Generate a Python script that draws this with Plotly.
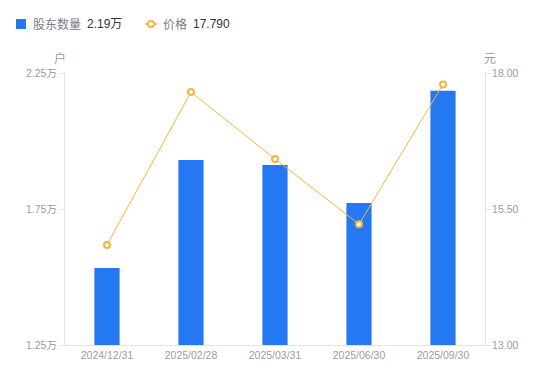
import plotly.graph_objects as go

dates = ["2024/12/31", "2025/02/28", "2025/03/31", "2025/06/30", "2025/09/30"]
holders = [1.533, 1.930, 1.912, 1.772, 2.185]  # 万户
price = [14.84, 17.65, 16.42, 15.22, 17.79]
left_ticks = [1.25, 1.75, 2.25]
left_labels = ["1.25万", "1.75万", "2.25万"]
right_ticks = [13.0, 15.5, 18.0]
right_labels = ["13.00", "15.50", "18.00"]
legend_names = ["股东数量", "价格"]
legend_values = ["2.19万", "17.790"]

W, H = 550, 381
L, R, T, B = 65, 65, 73, 36
PW, PH = W - L - R, H - T - B


def px(x):
    return (x - L) / PW


def py(y):
    return (H - B - y) / PH


grey = "#9a9ca8"
axis_line = "#e3e4e8"
blue = "#2478f2"
orange = "#f7b43c"
font_fam = "Liberation Sans, Arial, Noto Sans CJK SC, sans-serif"
tick_size = 10.5

fig = go.Figure()
fig.add_trace(go.Bar(
    x=dates, y=holders, name=legend_names[0],
    marker=dict(color=blue, line=dict(width=0)), width=0.3,
))
fig.add_trace(go.Scatter(
    x=dates, y=price, yaxis="y2", mode="lines+markers", name=legend_names[1],
    line=dict(color=orange, width=1),
    marker=dict(symbol="circle", size=6, color="white", line=dict(color=orange, width=2)),
))

shapes = [
    dict(type="rect", xref="paper", yref="paper", x0=px(16), x1=px(26), y0=py(29), y1=py(19),
         fillcolor=blue, line=dict(width=0)),
    dict(type="line", xref="paper", yref="paper", x0=px(145), x1=px(157), y0=py(24), y1=py(24),
         line=dict(color=orange, width=1.5)),
    dict(type="circle", xref="paper", yref="paper", x0=px(148), x1=px(154), y0=py(27), y1=py(21),
         fillcolor="white", line=dict(color=orange, width=2)),
]

ann = [
    dict(text=legend_names[0], x=px(31), y=py(24), xanchor="left", yanchor="middle",
         font=dict(size=12, color="#7a7d88", family="Noto Sans CJK SC")),
    dict(text=legend_values[0], x=px(85), y=py(24), xanchor="left", yanchor="middle",
         font=dict(size=12, color="#333333", family=font_fam)),
    dict(text=legend_names[1], x=px(161), y=py(24), xanchor="left", yanchor="middle",
         font=dict(size=12, color="#7a7d88", family="Noto Sans CJK SC")),
    dict(text=legend_values[1], x=px(191), y=py(24), xanchor="left", yanchor="middle",
         font=dict(size=12, color="#333333", family=font_fam)),
    dict(text="户", x=px(60), y=py(57), xanchor="center", yanchor="middle",
         font=dict(size=12, color=grey, family="Noto Sans CJK SC")),
    dict(text="元", x=px(490), y=py(57), xanchor="center", yanchor="middle",
         font=dict(size=12, color=grey, family="Noto Sans CJK SC")),
]
for a in ann:
    a.update(xref="paper", yref="paper", showarrow=False)

fig.update_layout(
    width=W, height=H,
    margin=dict(l=L, r=R, t=T, b=B, autoexpand=False),
    plot_bgcolor="white", paper_bgcolor="white",
    font=dict(family=font_fam, size=tick_size, color=grey),
    showlegend=False,
    bargap=0.7,
    shapes=shapes,
    annotations=ann,
    xaxis=dict(type="category", showline=True, linecolor=axis_line, linewidth=1,
               ticks="", showgrid=False, automargin=False,
               tickfont=dict(size=tick_size, color=grey)),
    yaxis=dict(range=[1.25, 2.25], tickvals=left_ticks, ticktext=left_labels,
               showline=True, linecolor=axis_line, linewidth=1, ticks="outside",
               ticklen=5, tickcolor=axis_line, showgrid=False, zeroline=False,
               automargin=False, tickfont=dict(size=tick_size, color=grey)),
    yaxis2=dict(range=[13, 18], tickvals=right_ticks, ticktext=right_labels,
                overlaying="y", side="right", anchor="x", showline=True, linecolor=axis_line,
                linewidth=1, ticks="outside", ticklen=4, tickcolor=axis_line,
                showgrid=False, zeroline=False, automargin=False,
                tickfont=dict(size=tick_size, color=grey)),
)

fig.write_html("out.html", config={"displayModeBar": False},
               post_script="document.body.style.margin='0';document.body.style.overflow='hidden';")
